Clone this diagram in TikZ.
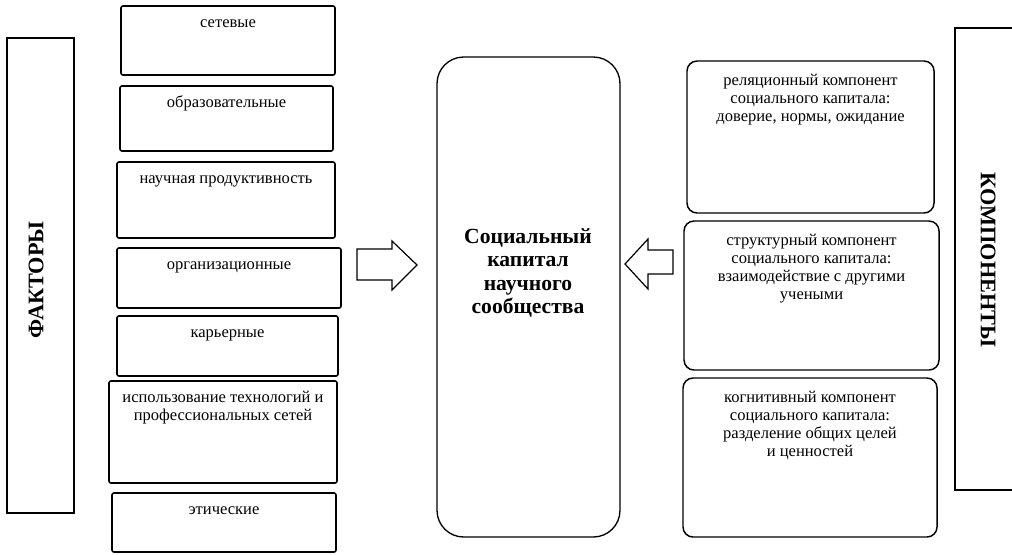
\documentclass[tikz,border=0pt]{standalone}
\usepackage{fontspec}
\setmainfont{Liberation Serif}
\usetikzlibrary{fit}
\tikzset{
  fbox/.style={draw, line width=1.2pt, rounded corners=1.5pt, inner sep=0pt},
  rbox/.style={draw, line width=1.1pt, rounded corners=7.5pt, inner sep=0pt},
  cbox/.style={draw, line width=1pt, rounded corners=20pt, inner sep=0pt},
  sbox/.style={draw, line width=1.2pt, inner sep=0pt},
  ltext/.style={anchor=north, inner sep=0pt, align=center, yshift=-7.4pt,
    font=\fontsize{12.4pt}{13.5pt}\selectfont},
  rtext/.style={anchor=north, inner sep=0pt, align=center, yshift=-9.5pt,
    font=\fontsize{12.4pt}{13.5pt}\selectfont},
  ctext/.style={align=center, inner sep=0pt, font=\bfseries\fontsize{16.2pt}{17.6pt}\selectfont},
  vtext/.style={inner sep=0pt, font=\bfseries\fontsize{16.7pt}{18pt}\selectfont},
  barrow/.style={draw, line width=0.9pt, fill=white},
}
\begin{document}
\begin{tikzpicture}[x=0.75pt,y=-0.75pt]
\useasboundingbox (0,0) rectangle (1012,554);
\clip (0,0) rectangle (1012,554);
\fill[white] (0,0) rectangle (1012,554);

% FACTORS
\node[sbox, fit={(7,38) (74,513)}] (fact) {};
\node[vtext, rotate=90] (factt) at (36,280) {ФАКТОРЫ};

% factor boxes
\node[fbox, fit={(121,6) (335,75)}] (f1) {};
\node[ltext] (f1t) at (f1.north) {\strut сетевые};
\node[fbox, fit={(120,86) (333,151)}] (f2) {};
\node[ltext] (f2t) at (f2.north) {\strut образовательные};
\node[fbox, fit={(117,162) (335,238)}] (f3) {};
\node[ltext] (f3t) at (f3.north) {\strut научная продуктивность};
\node[fbox, fit={(117,248) (341,308)}] (f4) {};
\node[ltext] (f4t) at (f4.north) {\strut организационные};
\node[fbox, fit={(117,316) (338,376)}] (f5) {};
\node[ltext] (f5t) at (f5.north) {\strut карьерные};
\node[fbox, fit={(109,381) (337,483)}] (f6) {};
\node[ltext] (f6t) at (f6.north) {\strut использование технологий и\\профессиональных сетей};
\node[fbox, fit={(112,493) (336,552)}] (f7) {};
\node[ltext] (f7t) at (f7.north) {\strut этические};

% centre
\node[cbox, fit={(437,57) (620,537)}] (core) {};
\node[ctext] (coret) at (528,273) {Социальный\\капитал\\научного\\сообщества};

% block arrows
\draw[barrow] (357,249) -- (392,249) -- (392,241) -- (417,265) -- (392,290) -- (392,280) -- (357,280) -- cycle;
\draw[barrow] (673,250) -- (648,250) -- (648,239) -- (625,264) -- (648,289) -- (648,274) -- (673,274) -- cycle;

% component boxes
\node[rbox, fit={(687,61) (934,213)}] (c1) {};
\node[rtext] (c1t) at (c1.north) {\strut реляционный компонент\\социального капитала:\\доверие, нормы, ожидание};
\node[rbox, fit={(684,221) (939,370)}] (c2) {};
\node[rtext] (c2t) at (c2.north) {\strut структурный компонент\\социального капитала:\\взаимодействие с другими\\учеными};
\node[rbox, fit={(683,378) (937,537)}] (c3) {};
\node[rtext] (c3t) at (c3.north) {\strut когнитивный компонент\\социального капитала:\\разделение общих целей\\и ценностей};

% COMPONENTS
\node[sbox, fit={(955,28) (1040,490)}] (comp) {};
\node[vtext, rotate=-90] (compt) at (988,260) {КОМПОНЕНТЫ};
\end{tikzpicture}
\end{document}
